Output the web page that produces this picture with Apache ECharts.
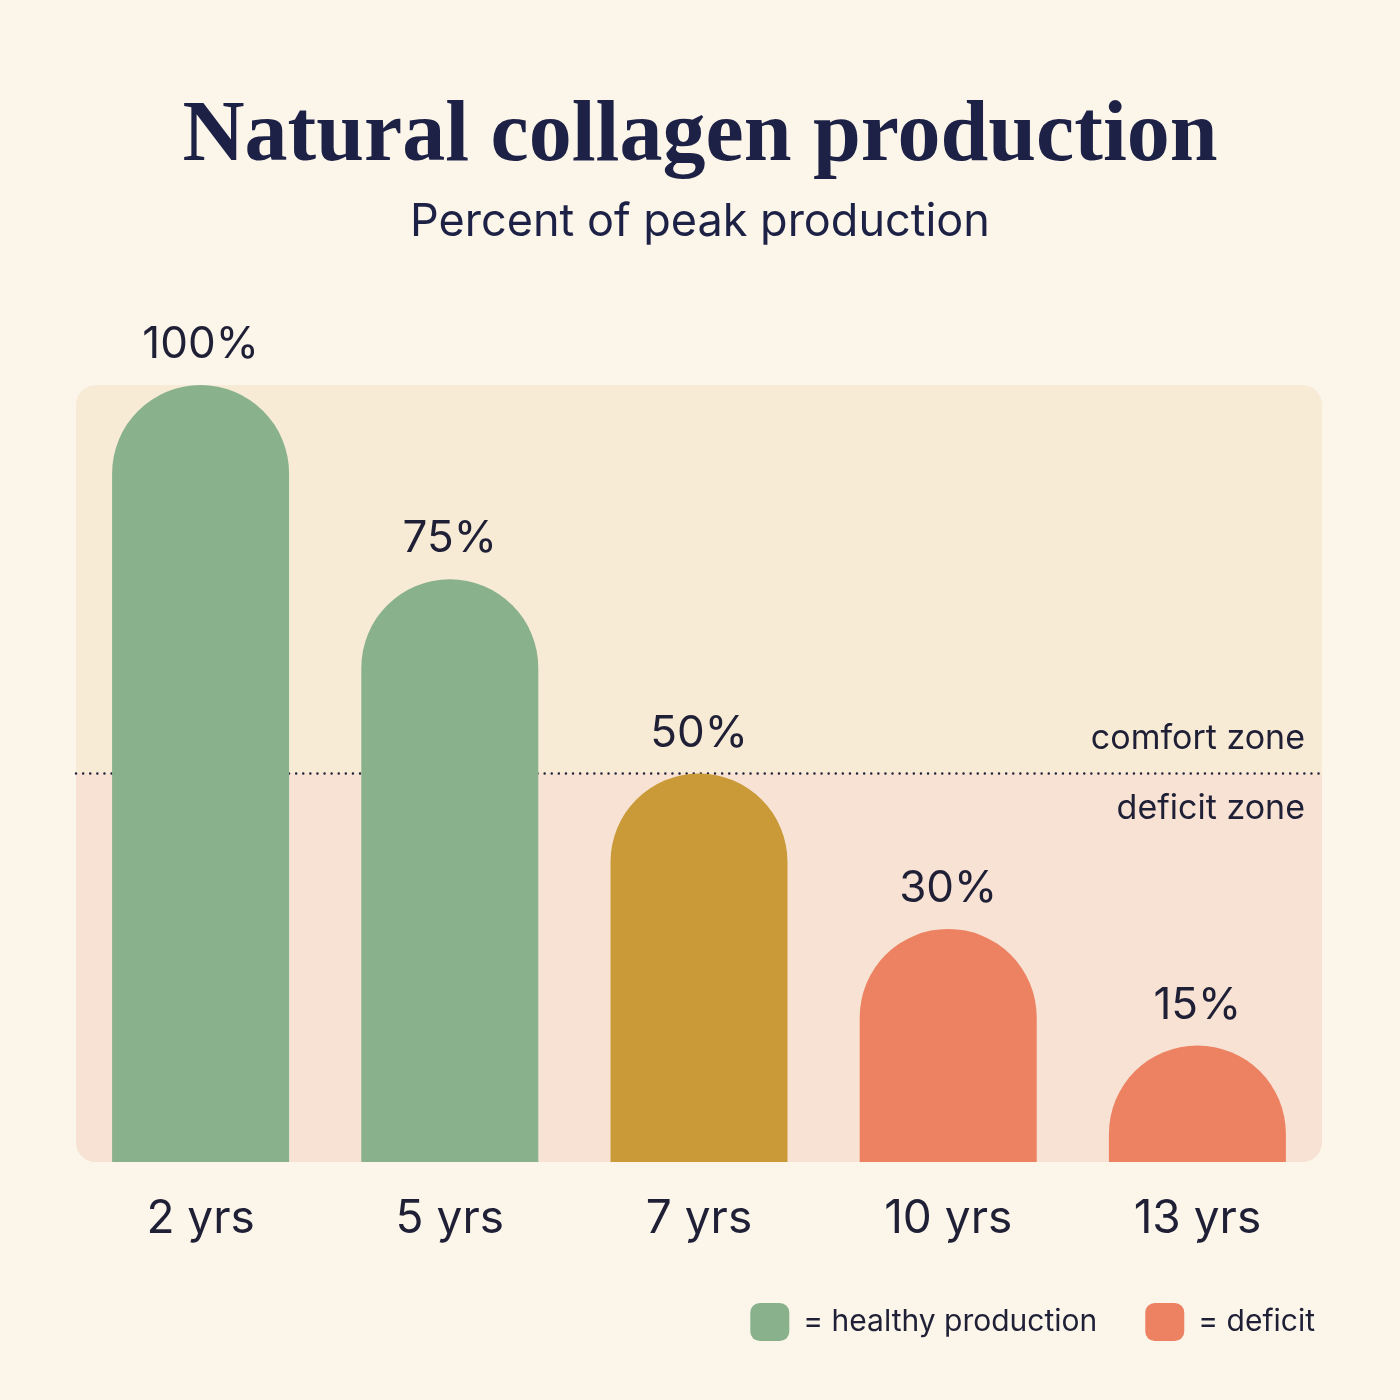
<!DOCTYPE html>
<html>
<head>
<meta charset="utf-8">
<script src="https://cdn.jsdelivr.net/npm/echarts@6/dist/echarts.min.js"></script>
<style>
  html, body { margin: 0; padding: 0; background: #fbf5ea; }
  #chart { width: 1400px; height: 1400px; }
</style>
</head>
<body>
<div id="chart"></div>
<script>
const ages = ["2 yrs", "5 yrs", "7 yrs", "10 yrs", "13 yrs"];
const production = [100, 75, 50, 30, 15];
const barColors = ["#89b28c", "#89b28c", "#c99a37", "#ec8262", "#ec8262"];
const zoneLimit = 50;
const legendNames = ["= healthy production", "= deficit"];
const legendColors = ["#89b28c", "#ec8262"];

const ink = "#1f1f36";
const gridLeft = 76, gridRight = 78, gridTop = 385, gridBottom = 238;

const chart = echarts.init(document.getElementById("chart"));

chart.setOption({
    backgroundColor: "#fbf5ea",
    animation: false,
    title: [
        {
            text: "Natural collagen production",
            left: "center", top: 90,
            textStyle: { fontFamily: "Liberation Serif", fontWeight: "bold", fontSize: 86, color: "#1d2145" }
        },
        {
            text: "Percent of peak production",
            left: "center", top: 195,
            textStyle: { fontFamily: "Inter", fontWeight: "normal", fontSize: 45, color: "#1d2145" }
        }
    ],
    legend: {
        data: legendNames,
        right: 80, bottom: 54,
        icon: "roundRect",
        itemWidth: 39, itemHeight: 38,
        itemGap: 48,
        textStyle: { fontFamily: "Inter", fontSize: 30, color: ink, padding: [0, 0, 0, 9] },
        selectedMode: false
    },
    grid: { left: gridLeft, right: gridRight, top: gridTop, bottom: gridBottom },
    xAxis: {
        type: "category",
        data: ages,
        axisLine: { show: false },
        axisTick: { show: false },
        axisLabel: { fontFamily: "Inter", fontSize: 46, color: ink, margin: 34 }
    },
    yAxis: { type: "value", min: 0, max: 100, show: false },
    series: [
        {
            type: "bar",
            name: "production",
            stack: "one",
            z: 3,
            barWidth: 177,
            data: production.map((v, i) => ({ value: v, itemStyle: { color: barColors[i] } })),
            itemStyle: { borderRadius: [88.5, 88.5, 0, 0] },
            label: {
                show: true,
                position: "top",
                distance: 18,
                formatter: "{c}%",
                fontFamily: "Inter",
                fontSize: 44,
                color: ink
            }
        },
        { type: "bar", stack: "one", name: legendNames[0], data: [], itemStyle: { color: legendColors[0], borderRadius: 7 } },
        { type: "bar", stack: "one", name: legendNames[1], data: [], itemStyle: { color: legendColors[1], borderRadius: 7 } }
    ]
});

// zone panels and divider behind the bars, placed from the y axis
const yTop = chart.convertToPixel({ yAxisIndex: 0 }, 100);
const yMid = chart.convertToPixel({ yAxisIndex: 0 }, zoneLimit);
const yBase = chart.convertToPixel({ yAxisIndex: 0 }, 0);
const xL = gridLeft, xR = 1400 - gridRight;

chart.setOption({
    graphic: [
        {
            type: "rect", z: -10, silent: true,
            shape: { x: xL, y: yTop, width: xR - xL, height: yBase - yTop, r: 20 },
            style: { fill: "#f8ebd6" }
        },
        {
            type: "rect", z: -9, silent: true,
            shape: { x: xL, y: yMid, width: xR - xL, height: yBase - yMid, r: [0, 0, 20, 20] },
            style: { fill: "#f7e2d4" }
        },
        {
            type: "line", z: -8, silent: true,
            shape: { x1: xL, y1: yMid, x2: xR, y2: yMid },
            style: { stroke: "#22223a", lineWidth: 2.4, lineDash: [0.1, 7], lineCap: "round" }
        },
        {
            type: "text", z: 5, silent: true,
            style: { text: "comfort zone", x: xR - 17, y: yMid - 35, align: "right", verticalAlign: "middle",
                     font: "34px Inter", fill: ink }
        },
        {
            type: "text", z: 5, silent: true,
            style: { text: "deficit zone", x: xR - 17, y: yMid + 35, align: "right", verticalAlign: "middle",
                     font: "34px Inter", fill: ink }
        }
    ]
});
</script>
</body>
</html>
